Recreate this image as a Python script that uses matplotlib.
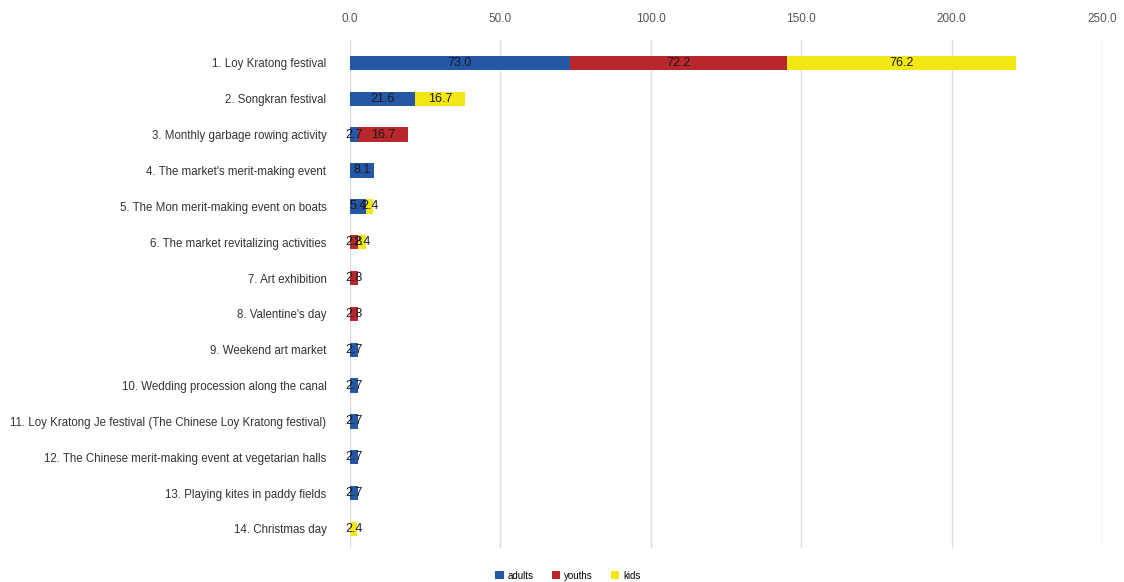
import numpy as np
import matplotlib.pyplot as plt

plt.rcParams['font.family'] = ['Liberation Sans', 'DejaVu Sans']

categories = [
    "1. Loy Kratong festival",
    "2. Songkran festival",
    "3. Monthly garbage rowing activity",
    "4. The market's merit-making event",
    "5. The Mon merit-making event on boats",
    "6. The market revitalizing activities",
    "7. Art exhibition",
    "8. Valentine's day",
    "9. Weekend art market",
    "10. Wedding procession along the canal",
    "11. Loy Kratong Je festival (The Chinese Loy Kratong festival)",
    "12. The Chinese merit-making event at vegetarian halls",
    "13. Playing kites in paddy fields",
    "14. Christmas day",
]
adults = [73.0, 21.6, 2.7, 8.1, 5.4, 0, 0, 0, 2.7, 2.7, 2.7, 2.7, 2.7, 0]
youths = [72.2, 0, 16.7, 0, 0, 2.8, 2.8, 2.8, 0, 0, 0, 0, 0, 0]
kids = [76.2, 16.7, 0, 0, 2.4, 2.4, 0, 0, 0, 0, 0, 0, 0, 2.4]

series = [("adults", adults, "#2557a7"), ("youths", youths, "#b8272c"), ("kids", kids, "#f2e714")]

fig = plt.figure(figsize=(11.24, 5.82), dpi=100)
ax = fig.add_axes([350/1124, 1-548/582, 752/1124, 508/582])

y = np.arange(len(categories))
left = np.zeros(len(categories))
for name, vals, col in series:
    vals = np.array(vals)
    bars = ax.barh(y, vals, left=left, height=0.4, color=col, label=name, zorder=3)
    for b, v, l in zip(bars, vals, left):
        if v > 0:
            ax.text(l + v/2, b.get_y() + b.get_height()/2, f"{v:.1f}",
                    ha="center", va="center", fontsize=9, color="#1a1a1a", zorder=4)
    left += vals

ax.set_xlim(0, 250)
ax.set_ylim(13.53, -0.64)
ticks = np.arange(0, 251, 50)
ax.set_xticks(ticks)
ax.set_xticklabels([f"{t:.1f}" for t in ticks])
ax.xaxis.tick_top()
ax.tick_params(axis="x", length=0, pad=11, labelsize=8.5, labelcolor="#555555")
ax.set_yticks(y)
ax.set_yticklabels(categories)
ax.tick_params(axis="y", length=0, pad=17, labelsize=8.3, labelcolor="#333333")
ax.grid(axis="x", color="#dddddd", linewidth=1, zorder=0)
for s in ax.spines.values():
    s.set_visible(False)

ax.legend(loc="lower center", bbox_to_anchor=(568/1124, -0.013), bbox_transform=fig.transFigure,
          ncol=3, frameon=False, fontsize=7, handlelength=0.9, handleheight=0.9,
          handletextpad=0.4, columnspacing=1.8)

fig.savefig("out.png", dpi=100)
